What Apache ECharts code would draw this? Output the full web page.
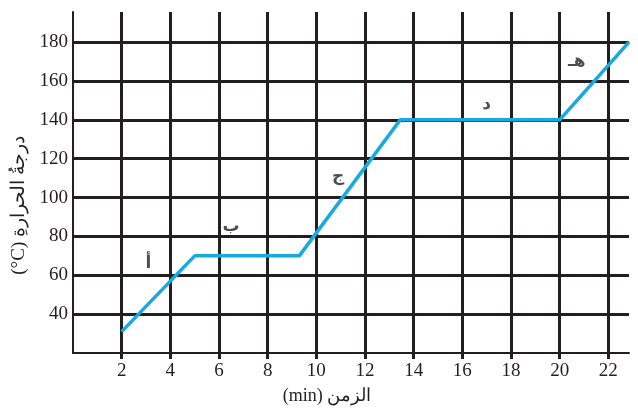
<!DOCTYPE html>
<html><head><meta charset="utf-8">
<script src="https://cdn.jsdelivr.net/npm/echarts@6/dist/echarts.min.js"></script>
<style>html,body{margin:0;padding:0;background:#fff}#c{width:638px;height:411px}</style>
</head><body><div id="c"></div>
<script>
// Data
const timeMin = [2, 5, 9.3, 13.45, 20, 22.85];
const tempC = [31, 70, 70, 140, 140, 180];
const xTicks = [2, 4, 6, 8, 10, 12, 14, 16, 18, 20, 22];
const yTicks = [40, 60, 80, 100, 120, 140, 160, 180];
const stageLetters = ['أ', 'ب', 'ج', 'د', 'هـ'];
const stageX = [3.1, 6.5, 10.9, 17.0, 20.7];
const stageY = [66, 85, 111, 148, 170];
const xTitle = '(min) الزمن';
const yTitle = '(°C) درجةُ الحرارةِ';

const chart = echarts.init(document.getElementById('c'));
const ink = '#231f20';
const serif = '"Liberation Serif", "DejaVu Serif", serif';
chart.setOption({
  animation: false,
  grid: {left: 73, right: 9, top: 12, bottom: 58},
  xAxis: {
    type: 'value', min: 0, max: 22.85, interval: 2,
    name: xTitle, nameLocation: 'middle', nameGap: 34,
    nameTextStyle: {fontFamily: serif, fontSize: 18, color: ink, padding: [0, 48, 0, 0]},
    axisLine: {show: true, lineStyle: {color: ink, width: 2}},
    axisTick: {show: true, length: 6, customValues: xTicks, lineStyle: {color: ink, width: 3}},
    axisLabel: {fontFamily: serif, fontSize: 19, color: ink, margin: 9, customValues: xTicks},
    splitLine: {show: true, lineStyle: {color: ink, width: 3}}
  },
  yAxis: {
    type: 'value', min: 20, max: 195.5, interval: 20,
    name: yTitle, nameLocation: 'middle', nameRotate: 90, nameGap: 43,
    nameTextStyle: {fontFamily: serif, fontSize: 19, color: ink, padding: [0, 46, 0, 0]},
    axisLine: {show: true, lineStyle: {color: ink, width: 2}},
    axisTick: {show: false, customValues: yTicks},
    axisLabel: {fontFamily: serif, fontSize: 19, color: ink, margin: 5, customValues: yTicks},
    splitLine: {show: true, lineStyle: {color: ink, width: 3}}
  },
  series: [
    {
      type: 'line', data: timeMin.map((x, i) => [x, tempC[i]]),
      showSymbol: false, symbol: 'none', clip: false,
      lineStyle: {color: '#19a9e1', width: 3.5}, z: 5
    },
    {
      type: 'scatter', symbolSize: 0,
      data: stageLetters.map((n, i) => ({name: n, value: [stageX[i], stageY[i]]})),
      label: {show: true, position: 'inside', formatter: p => p.name,
        fontFamily: '"DejaVu Sans", sans-serif', fontWeight: 'bold', fontSize: 17, color: ink},
      z: 6
    }
  ]
});
</script></body></html>
